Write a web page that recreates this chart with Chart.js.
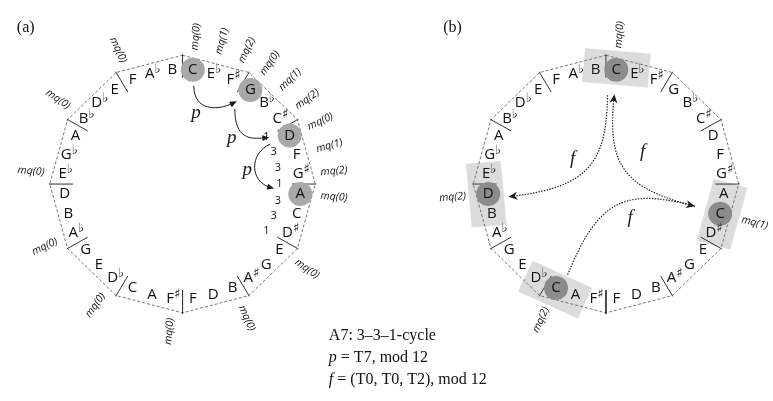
<!DOCTYPE html>
<html>
<head>
<meta charset="utf-8">
<script src="https://cdn.jsdelivr.net/npm/chart.js@4/dist/chart.umd.min.js"></script>
<style>
  html, body { margin: 0; padding: 0; background: #fff; }
  #wrap { width: 773px; height: 401px; }
</style>
</head>
<body>
<div id="wrap"><canvas id="cycleChart" width="773" height="401"></canvas></div>
<script>
// Notes around the dodecagon, clockwise, starting just right of the top vertex
const noteNames = ['C','Eb','F#','G','Bb','C#','D','F','G#','A','C','D#',
                   'E','G','A#','B','D','F','F#','A','C','Db','E','G',
                   'Ab','B','D','Eb','Gb','A','Bb','Db','E','F','Ab','B'];

// Panel (a): circled notes, mq labels, interval numbers between notes
const circledA = [0, 3, 6, 9];
const mqIndexA = [0, 1, 2, 3, 4, 5, 6, 7, 8, 9, 12, 15, 18, 21, 24, 27, 30, 33];
const mqTextA  = ['mq(0)','mq(1)','mq(2)','mq(0)','mq(1)','mq(2)','mq(0)','mq(1)','mq(2)',
                  'mq(0)','mq(0)','mq(0)','mq(0)','mq(0)','mq(0)','mq(0)','mq(0)','mq(0)'];
const intervalNumbers = ['1', '3', '3', '1', '3', '3', '1'];
const intervalAfterNote = [5, 6, 7, 8, 9, 10, 11];   // number sits between note i and i+1

// Panel (b): boxed / circled notes and their mq labels
const circledB = [0, 10, 26, 20];
const mqIndexB = [0, 10, 26, 20];
const mqTextB  = ['mq(0)', 'mq(1)', 'mq(2)', 'mq(2)'];

// Arrows: p (panel a, solid) and f (panel b, dotted)
const pArrows = [
    { from: 0, to: 3, startOff: [1, 17],   endOff: [-14, 12], h1: [0, 27],   h2: [-20, 10], label: [-12, 6] },
    { from: 3, to: 6, startOff: [-16, 20], endOff: [-21, 2],  h1: [0, 32],   h2: [-20, 2],  label: [-13, 3] },
    { from: 6, to: 9, startOff: [-20, 9],  endOff: [-27, -6], h1: [-22, 10], h2: [-25, -7], label: [-8, 3] }
];
const fArrows = [
    { from: 0,  to: 26, startOff: [-9, 27],  endOff: [21, 3],   h1: [-1, 75],  h2: [80, -11], label: [-14, -10] },
    { from: 10, to: 0,  startOff: [-26, -8], endOff: [-2, 26],  h1: [-73, -19], h2: [-7, 76], label: [17, -18] },
    { from: 20, to: 10, startOff: [12, -14], endOff: [-26, -8], h1: [31, -79], h2: [-73, -19], label: [14, 12] }
];

// Caption lines: [text, italic] segments
const captionLines = [
    [['A7: 3\u20133\u20131-cycle', false]],
    [['p', true], [' = T7, mod 12', false]],
    [['f', true], [' = (T0, T0, T2), mod 12', false]]
];

// Layout (chart units are pixels)
const centerA = [176, 183];
const centerB = [613, 183];
const vertexRadius = 137;
const noteRadius = 122;
const SANS = "'Open Sans', sans-serif";
const SERIF = "'Liberation Serif', serif";

function noteAngle(j) { return -85 + 10 * j; }

function polar(center, r, deg) {
    const a = deg * Math.PI / 180;
    return { x: center[0] + r * Math.cos(a), y: center[1] + r * Math.sin(a) };
}

// Dashed dodecagon
function polygonDataset(center) {
    const pts = [];
    for (let k = 0; k <= 12; k++) pts.push(polar(center, vertexRadius, -90 + 30 * k));
    return { data: pts, showLine: true, borderColor: '#666', borderWidth: 0.9,
             borderDash: [3, 2], pointRadius: 0, fill: false, order: 3 };
}

// Short radial bars at every vertex
function tickDatasets(center) {
    const list = [];
    for (let k = 0; k < 12; k++) {
        const a = -90 + 30 * k;
        list.push({ data: [polar(center, 113, a), polar(center, 138, a)], showLine: true,
                    borderColor: '#333', borderWidth: 1, pointRadius: 0, fill: false, order: 2 });
    }
    return list;
}

function circleDataset(center, idx, color) {
    return { data: idx.map(j => polar(center, noteRadius, noteAngle(j))), showLine: false,
             pointRadius: 12, backgroundColor: color, borderColor: color, pointBorderWidth: 0, order: 1 };
}

// Light grey box around a circled note group (panel b)
function boxDataset(center, j) {
    const a = noteAngle(j) * Math.PI / 180;
    const c = polar(center, 124, noteAngle(j));
    const t = [-Math.sin(a), Math.cos(a)], n = [Math.cos(a), Math.sin(a)];
    const corner = (st, sn) => ({ x: c.x + st * 34 * t[0] + sn * 18 * n[0], y: c.y + st * 34 * t[1] + sn * 18 * n[1] });
    return { data: [corner(-1, -1), corner(1, -1), corner(1, 1), corner(-1, 1), corner(-1, -1)],
             showLine: true, fill: 'shape', backgroundColor: '#dcdcdc', borderColor: '#dcdcdc',
             borderWidth: 0, pointRadius: 0, order: 5 };
}

// Text, arrows and captions drawn through the chart scales
const cyclePlugin = {
    id: 'cycleText',
    afterDatasetsDraw(chart) {
        const ctx = chart.ctx;
        const px = p => ({ x: chart.scales.x.getPixelForValue(p.x), y: chart.scales.y.getPixelForValue(p.y) });

        function drawNote(name, pos) {
            const p = px(pos);
            const acc = name.length > 1 ? (name[1] === 'b' ? '\u266D' : '\u266F') : '';
            ctx.font = '15px ' + SANS;
            const w0 = ctx.measureText(name[0]).width;
            ctx.font = '13px "DejaVu Sans"';
            const w1 = acc ? ctx.measureText(acc).width : 0;
            const x0 = p.x - (w0 + w1 * 0.7) / 2;
            ctx.textAlign = 'left';
            ctx.textBaseline = 'middle';
            ctx.font = '15px ' + SANS;
            ctx.fillText(name[0], x0, p.y);
            if (acc) {
                ctx.font = '13px "DejaVu Sans"';
                ctx.fillText(acc, x0 + w0, p.y - 4);
            }
        }

        function drawRadialText(center, deg, r, text) {
            const p = px(polar(center, r, deg));
            const right = Math.cos(deg * Math.PI / 180) >= 0;
            ctx.save();
            ctx.translate(p.x, p.y);
            ctx.rotate((right ? deg : deg + 180) * Math.PI / 180);
            ctx.font = 'italic 10.5px ' + SANS;
            ctx.textAlign = right ? 'left' : 'right';
            ctx.textBaseline = 'middle';
            ctx.fillText(text, 0, 0);
            ctx.restore();
        }

        function drawArrow(center, arr, dotted, head, labelText) {
            const s0 = polar(center, noteRadius, noteAngle(arr.from));
            const e0 = polar(center, noteRadius, noteAngle(arr.to));
            const P0 = { x: s0.x + arr.startOff[0], y: s0.y + arr.startOff[1] };
            const P3 = { x: e0.x + arr.endOff[0], y: e0.y + arr.endOff[1] };
            const P1 = { x: P0.x + arr.h1[0], y: P0.y + arr.h1[1] };
            const P2 = { x: P3.x + arr.h2[0], y: P3.y + arr.h2[1] };
            const a = px(P0), b = px(P1), c = px(P2), d = px(P3);
            const dx = d.x - c.x, dy = d.y - c.y, len = Math.hypot(dx, dy);
            const ux = dx / len, uy = dy / len;
            ctx.save();
            ctx.strokeStyle = '#1a1a1a';
            ctx.lineWidth = dotted ? 1.2 : 1;
            ctx.setLineDash(dotted ? [1.4, 1.4] : []);
            ctx.beginPath();
            ctx.moveTo(a.x, a.y);
            ctx.bezierCurveTo(b.x, b.y, c.x, c.y, d.x - ux * head * 0.6, d.y - uy * head * 0.6);
            ctx.stroke();
            ctx.setLineDash([]);
            // arrow head
            const w = dotted ? 4 : 3;
            ctx.fillStyle = '#1a1a1a';
            ctx.beginPath();
            ctx.moveTo(d.x, d.y);
            ctx.lineTo(d.x - ux * head - uy * w, d.y - uy * head + ux * w);
            if (dotted) ctx.lineTo(d.x - ux * head * 0.7, d.y - uy * head * 0.7);
            ctx.lineTo(d.x - ux * head + uy * w, d.y - uy * head - ux * w);
            ctx.closePath();
            ctx.fill();
            // label near the middle of the curve
            const mx = (a.x + 3 * b.x + 3 * c.x + d.x) / 8 + arr.label[0];
            const my = (a.y + 3 * b.y + 3 * c.y + d.y) / 8 + arr.label[1];
            ctx.font = 'italic 19px ' + SERIF;
            ctx.textAlign = 'center';
            ctx.textBaseline = 'middle';
            ctx.fillText(labelText, mx, my);
            ctx.restore();
        }

        ctx.save();
        ctx.fillStyle = '#111';

        // Note names on both panels
        noteNames.forEach((name, j) => {
            drawNote(name, polar(centerA, noteRadius, noteAngle(j)));
            drawNote(name, polar(centerB, noteRadius, noteAngle(j)));
        });

        // mq labels
        mqIndexA.forEach((j, i) => drawRadialText(centerA, noteAngle(j), 143, mqTextA[i]));
        mqIndexB.forEach((j, i) => drawRadialText(centerB, noteAngle(j), 145, mqTextB[i]));

        // Interval numbers inside panel (a)
        ctx.font = '11px ' + SANS;
        ctx.textAlign = 'center';
        ctx.textBaseline = 'middle';
        intervalNumbers.forEach((t, i) => {
            const p = px(polar(centerA, 100, noteAngle(intervalAfterNote[i]) + 5));
            ctx.fillText(t, p.x, p.y);
        });

        // Arrows
        pArrows.forEach(arr => drawArrow(centerA, arr, false, 7, 'p'));
        fArrows.forEach(arr => drawArrow(centerB, arr, true, 9, 'f'));

        // Panel letters
        ctx.fillStyle = '#111';
        ctx.font = '16px ' + SERIF;
        ctx.textAlign = 'left';
        ctx.textBaseline = 'alphabetic';
        let q = px({ x: 5, y: 21 });
        ctx.fillText('(a)', q.x, q.y);
        q = px({ x: 445, y: 21 });
        ctx.fillText('(b)', q.x, q.y);

        // Caption
        captionLines.forEach((segs, i) => {
            let p = px({ x: 327, y: 349 + i * 23.5 });
            let x = p.x;
            segs.forEach(([text, italic]) => {
                ctx.font = (italic ? 'italic ' : '') + '16px ' + SERIF;
                ctx.fillText(text, x, p.y);
                x += ctx.measureText(text).width;
            });
        });
        ctx.restore();
    }
};

function createCycleChart() {
    const ctx = document.getElementById('cycleChart').getContext('2d');
    const datasets = [
        ...circledB.map(j => boxDataset(centerB, j)),
        polygonDataset(centerA),
        polygonDataset(centerB),
        ...tickDatasets(centerA),
        ...tickDatasets(centerB),
        circleDataset(centerA, circledA, '#a8a8a8'),
        circleDataset(centerB, circledB, '#8c8c8c')
    ];
    new Chart(ctx, {
        type: 'scatter',
        data: { datasets: datasets },
        options: {
            responsive: false,
            animation: false,
            events: [],
            layout: { padding: 0 },
            plugins: { legend: { display: false }, tooltip: { enabled: false } },
            scales: {
                x: { type: 'linear', min: 0, max: 773, display: false },
                y: { type: 'linear', min: 0, max: 401, reverse: true, display: false }
            }
        },
        plugins: [cyclePlugin]
    });
}

createCycleChart();
</script>
</body>
</html>
